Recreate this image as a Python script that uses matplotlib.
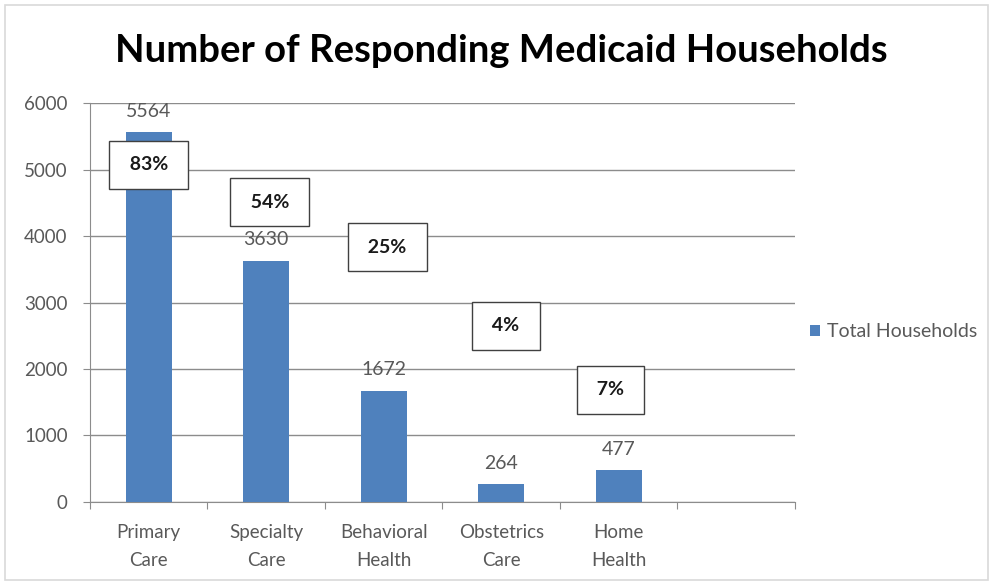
import matplotlib.pyplot as plt
from matplotlib.patches import Rectangle

categories = ["Primary\nCare", "Specialty\nCare", "Behavioral\nHealth", "Obstetrics\nCare", "Home\nHealth", ""]
households = [5564, 3630, 1672, 264, 477]
shares = ["83%", "54%", "25%", "4%", "7%"]
# where the percentage callouts sit (category position, value level)
share_pos = [(0.0, 5070), (1.03, 4510), (2.03, 3830), (3.04, 2650), (3.93, 1690)]

plt.rcParams["font.family"] = ["Lato", "DejaVu Sans"]
blue = "#4F81BD"
grey = "#595959"

fig = plt.figure(figsize=(9.93, 5.85), dpi=100)
fig.patches.append(Rectangle((0.005, 0.008), 0.99, 0.984, transform=fig.transFigure,
                             fill=False, edgecolor="#D9D9D9", lw=1.2))
ax = fig.add_axes([0.0906, 0.1419, 0.71, 0.682])

x = list(range(len(households)))
ax.bar(x, households, width=0.39, color=blue, label="Total Households", zorder=3)
for xi, v in zip(x, households):
    ax.annotate(str(v), (xi, v), xytext=(0, 9), textcoords="offset points",
                ha="center", va="bottom", fontsize=14, color=grey)
for s, (px, py) in zip(shares, share_pos):
    ax.text(px, py, " " + s + " ", ha="center", va="center", fontsize=14,
            fontweight="bold", color="#1a1a1a", zorder=5,
            bbox=dict(boxstyle="square,pad=0.8", fc="white", ec="#404040", lw=1))

ax.set_xlim(-0.5, len(categories) - 0.5)
ax.set_ylim(0, 6000)
ax.set_yticks(range(0, 6001, 1000))
ax.yaxis.grid(True, color="#8C8C8C", lw=1, zorder=0)
ax.set_xticks([i - 0.5 for i in range(len(categories) + 1)], minor=False)
ax.set_xticklabels([])
ax.set_xticks(range(len(categories)), minor=True)
ax.set_xticklabels(categories, minor=True, fontsize=13.5, color=grey, linespacing=1.75)
ax.tick_params(axis="x", which="minor", length=0, pad=16)
ax.tick_params(axis="x", which="major", length=5, color="#8C8C8C", direction="out")
ax.tick_params(axis="y", length=5, color="#8C8C8C", labelsize=13.5, labelcolor=grey, pad=11)
for side in ["top", "right"]:
    ax.spines[side].set_visible(False)
for side in ["left", "bottom"]:
    ax.spines[side].set_color("#8C8C8C")

fig.text(0.505, 0.912, "Number of Responding Medicaid Households", ha="center", va="center",
         fontsize=27.5, fontweight="bold", color="black")
fig.legend(loc="center left", bbox_to_anchor=(0.798, 0.433), frameon=False, fontsize=14,
           handlelength=0.5, handleheight=0.5, handletextpad=0.4, labelcolor=grey)

fig.savefig("out.png", dpi=100)
